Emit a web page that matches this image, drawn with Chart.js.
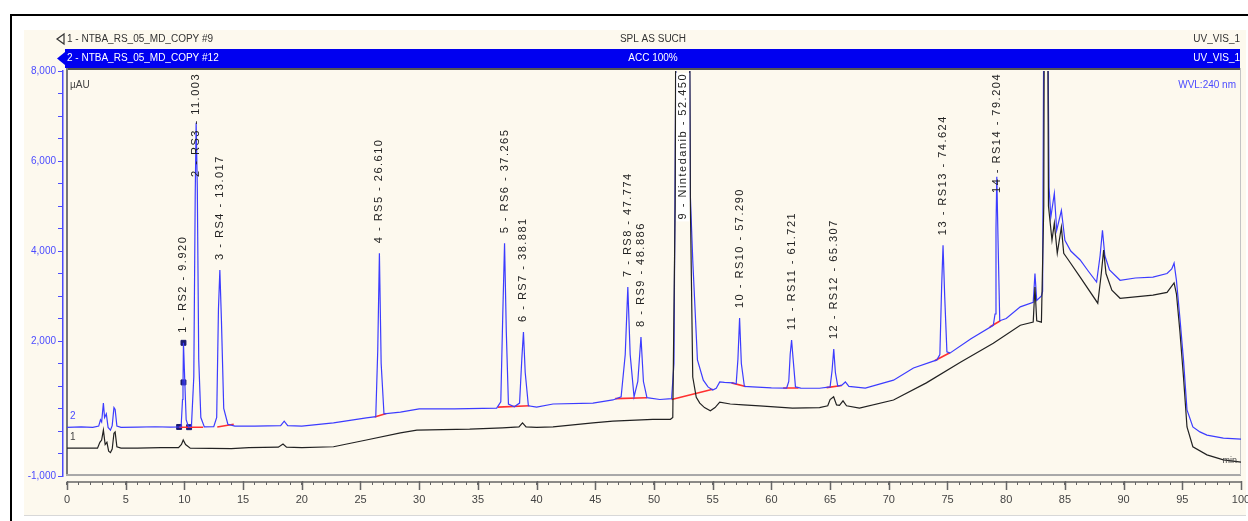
<!DOCTYPE html>
<html lang="en">
<head>
<meta charset="UTF-8">
<title>NTBA RS overlay</title>
<style>
  html, body { margin: 0; padding: 0; background: #fff; }
  canvas { display: block; }
</style>
</head>
<body>
<canvas id="chrom" width="1248" height="521"></canvas>
<script src="https://cdn.jsdelivr.net/npm/chart.js"></script>
<script>
// [min, µAU] read off the overlay
// trace 2 - ACC 100% (blue)
const accTrace = [
  [0,80],[1.2,90],[2.2,80],[2.7,110],[2.85,250],[2.95,200],[3.1,620],[3.2,300],[3.35,380],[3.5,80],[3.7,20],
  [3.85,120],[4.0,520],[4.1,480],[4.25,110],[4.6,80],[6,85],[7.5,95],[8.8,85],[9.6,90],[9.72,95],[9.84,700],
  [9.88,1000],[9.92,1960],[10.02,1200],[10.15,250],[10.35,90],[10.6,110],[10.8,1200],[10.92,5200],[11.0,6850],
  [11.1,5400],[11.22,1600],[11.4,300],[11.7,90],[12.5,95],[12.75,300],[12.9,2700],[13.02,3580],[13.15,2500],
  [13.35,500],[13.7,150],[14.3,110],[16,110],[18.2,120],[18.5,220],[18.8,120],[20,110],[22.7,180],[25.5,290],
  [26.3,320],[26.47,1800],[26.61,3950],[26.76,1500],[27.0,380],[28.4,420],[30,490],[33,490],[36.6,510],
  [36.95,650],[37.12,2600],[37.27,4170],[37.42,2200],[37.6,600],[38.1,540],[38.55,620],[38.74,1600],[38.88,2200],
  [39.03,1300],[39.3,560],[40,530],[41.4,600],[44.8,620],[46.5,690],[47.2,760],[47.55,1700],[47.77,3200],
  [47.97,1700],[48.3,760],[48.62,1100],[48.89,2090],[49.1,1100],[49.4,740],[50.5,700],[51.5,720],[51.7,1500],
  [51.95,12000],[52.45,40000],[52.95,12000],[53.1,5200],[53.3,3800],[53.7,1580],[54.2,1130],[54.6,980],
  [55.0,910],[55.3,950],[55.6,1090],[56.0,1080],[56.7,1070],[57.0,1050],[57.15,1600],[57.29,2510],[57.44,1500],
  [57.7,990],[58.4,980],[60,960],[61.3,955],[61.48,1100],[61.6,1700],[61.72,2020],[61.85,1600],[62.05,980],
  [62.5,955],[64.1,950],[65.0,980],[65.17,1350],[65.31,1820],[65.45,1300],[65.65,1000],[66.0,1020],[66.3,1090],
  [66.6,990],[68,955],[70.4,1130],[72.1,1400],[74.1,1580],[74.35,1700],[74.5,3200],[74.62,4130],[74.76,3000],
  [74.95,1760],[75.2,1730],[77,2050],[78.9,2350],[79.05,2600],[79.13,4500],[79.2,5650],[79.3,4300],[79.45,2450],
  [80,2500],[81.2,2760],[82.3,2860],[82.45,3500],[82.6,2900],[83.0,3000],[83.1,3100],[83.25,12000],[83.4,25000],
  [83.55,9000],[83.65,5420],[83.8,4750],[84.1,5280],[84.3,4460],[84.7,4900],[85.0,4240],[85.5,4000],[86.3,3800],
  [87.0,3550],[87.7,3310],[88.0,3900],[88.2,4460],[88.4,3900],[88.8,3580],[89.7,3350],[91,3400],[92.5,3420],
  [93.7,3500],[94.1,3600],[94.3,3730],[94.5,3350],[94.8,2500],[95.1,1580],[95.4,470],[95.9,90],[96.5,-20],
  [97.1,-90],[98.5,-160],[100,-180]
];
// trace 1 - SPL AS SUCH (black)
const splTrace = [
  [0,-380],[2.6,-380],[2.8,-250],[2.95,-200],[3.1,20],[3.25,-300],[3.4,-250],[3.55,-450],[3.7,-480],[3.85,-400],
  [4.0,-50],[4.1,-20],[4.25,-350],[4.6,-380],[6,-380],[8,-370],[9.5,-370],[9.75,-300],[9.9,-200],[10.1,-300],
  [10.5,-380],[14,-390],[15.5,-370],[18,-360],[18.4,-290],[18.7,-360],[20,-370],[22.7,-350],[25.5,-200],
  [28.4,-40],[29.8,20],[32,30],[34.3,40],[37.1,70],[38.5,90],[38.8,180],[39.1,90],[40,80],[41.4,90],[44.8,180],
  [46.5,220],[49.9,260],[51.4,260],[51.6,300],[51.8,5000],[52.0,20000],[52.6,30000],[52.95,15000],[53.1,5000],
  [53.3,1200],[53.6,750],[53.9,620],[54.3,520],[54.8,450],[55.2,520],[55.6,640],[56.5,600],[57.6,580],[59,560],
  [61.8,510],[64.1,520],[64.8,560],[65.0,700],[65.3,760],[65.55,580],[65.8,570],[66.1,670],[66.4,560],[67.5,510],
  [70.4,690],[73.2,1070],[76.1,1530],[78.9,1950],[81.2,2350],[82.3,2420],[82.45,3200],[82.6,2450],[83.0,2420],
  [83.2,5000],[83.35,20000],[83.5,12000],[83.6,5000],[83.9,4240],[84.1,4620],[84.35,3950],[84.7,4530],
  [84.9,3950],[85.3,3800],[86.3,3420],[87.8,2840],[88.1,3500],[88.3,4020],[88.5,3500],[89.0,3130],[89.7,2950],
  [92.5,3020],[93.7,3080],[94.3,3290],[94.5,3050],[94.8,2200],[95.1,1200],[95.4,90],[95.9,-350],[97.1,-530],
  [98.5,-640],[100,-690]
];
// integration baselines (start min, start µAU, end min, end µAU)
const baselineSegments = [
  [9.55,85,11.6,85],[12.8,90,14.2,150],[26.2,310,27.2,390],[36.7,530,39.4,560],[46.7,720,49.4,740],
  [51.5,700,55.0,930],[56.6,1070,57.8,990],[61.0,955,62.3,955],[64.7,965,66.0,1010],[73.9,1560,75.2,1740],
  [78.6,2310,79.5,2450]
];
const peakTimes = [9.920, 11.003, 13.017, 26.610, 37.265, 38.881, 47.774, 48.886, 52.450, 57.290, 61.721, 65.307, 74.624, 79.204];
const peakNames = ['1 - RS2 - 9.920', '2 - RS3 - 11.003', '3 - RS4 - 13.017', '4 - RS5 - 26.610', '5 - RS6 - 37.265',
  '6 - RS7 - 38.881', '7 - RS8 - 47.774', '8 - RS9 - 48.886', '9 - Nintedanib - 52.450', '10 - RS10 - 57.290',
  '11 - RS11 - 61.721', '12 - RS12 - 65.307', '13 - RS13 - 74.624', '14 - RS14 - 79.204'];
const peak1Marks = [[9.55,90],[9.92,1080],[9.92,1960],[10.4,85]];
const xLabelValues = [0,5,10,15,20,25,30,35,40,45,50,55,60,65,70,75,80,85,90,95,100];
const yLabelValues = [-1000,2000,4000,6000,8000];

const FONT = '"Liberation Sans", Arial, sans-serif';
const TRACE_BLUE = '#3c3cff';
const AXIS_BLUE = '#4b4bff';

const pts = a => a.map(p => ({ x: p[0], y: p[1] }));
const baselineData = [];
baselineSegments.forEach(s => {
  baselineData.push({ x: s[0], y: s[1] }, { x: s[2], y: s[3] }, { x: s[2], y: null });
});

const chromFrame = {
  id: 'chromFrame',
  beforeDraw(chart) {
    const { ctx, scales: { x, y } } = chart;
    ctx.save();
    ctx.fillStyle = '#fff';
    ctx.fillRect(0, 0, chart.width, chart.height);
    // outer black frame
    ctx.fillStyle = '#000';
    ctx.fillRect(10, 14, 2, chart.height - 14);
    ctx.fillRect(10, 14, chart.width - 10, 2);
    // cream panel
    ctx.fillStyle = '#fdf9ee';
    ctx.fillRect(24, 30, 1222, 486);
    ctx.fillStyle = '#d8d8d8';
    ctx.fillRect(24, 515, 1222, 1);

    // header rows
    ctx.font = '10px ' + FONT;
    ctx.textBaseline = 'middle';
    ctx.fillStyle = '#333';
    ctx.strokeStyle = '#333';
    ctx.lineWidth = 1.2;
    ctx.beginPath();
    ctx.moveTo(64, 34); ctx.lineTo(57, 39); ctx.lineTo(64, 44);
    ctx.closePath();
    ctx.stroke();
    ctx.textAlign = 'left';
    ctx.fillText('1 - NTBA_RS_05_MD_COPY #9', 67, 39);
    ctx.textAlign = 'center';
    ctx.fillText('SPL AS SUCH', 653, 39);
    ctx.textAlign = 'right';
    ctx.fillText('UV_VIS_1', 1240, 39);

    ctx.fillStyle = '#0000f0';
    ctx.fillRect(65, 49, 1175, 19);
    ctx.beginPath();
    ctx.moveTo(65, 52); ctx.lineTo(57, 58.5); ctx.lineTo(65, 65);
    ctx.closePath();
    ctx.fill();
    ctx.fillStyle = '#fff';
    ctx.textAlign = 'left';
    ctx.fillText('2 - NTBA_RS_05_MD_COPY #12', 67, 58.5);
    ctx.textAlign = 'center';
    ctx.fillText('ACC 100%', 653, 58.5);
    ctx.textAlign = 'right';
    ctx.fillText('UV_VIS_1', 1240, 58.5);

    // plot frame
    const l = x.getPixelForValue(0), r = x.getPixelForValue(100);
    const b = y.getPixelForValue(-1000) - 1;
    ctx.fillStyle = '#555';
    ctx.fillRect(l - 1, 68, r - l + 1, 2);
    ctx.fillStyle = '#777';
    ctx.fillRect(l - 1, 68, 2, b - 68 + 1);
    ctx.fillStyle = '#a8a8a8';
    ctx.fillRect(l - 1, b - 1, r - l + 1, 2);
    ctx.fillStyle = '#c4c4c4';
    ctx.fillRect(r - 1, 68, 1, b - 68);
    ctx.restore();
  },
  afterDatasetsDraw(chart) {
    const { ctx, chartArea, scales: { x, y } } = chart;
    ctx.save();
    // peak labels, bottom-to-top
    ctx.font = '11px ' + FONT;
    ctx.letterSpacing = '1.5px';
    ctx.textBaseline = 'middle';
    ctx.textAlign = 'left';
    peakTimes.forEach((rt, i) => {
      let top = -Infinity;
      accTrace.forEach(p => { if (Math.abs(p[0] - rt) < 0.2) top = Math.max(top, p[1]); });
      const clipped = top >= y.max;
      const px = x.getPixelForValue(rt);
      const py = y.getPixelForValue(Math.min(top, y.max));
      const len = ctx.measureText(peakNames[i]).width;
      let start = py - 10;
      if (start - len < chartArea.top + 2) start = chartArea.top + 2 + len;
      ctx.save();
      ctx.translate(px, start);
      ctx.rotate(-Math.PI / 2);
      if (clipped) {
        ctx.fillStyle = '#fff';
        ctx.fillRect(-2, -6.5, len + 2, 13);
      }
      ctx.fillStyle = '#222';
      ctx.fillText(peakNames[i], 0, 0);
      ctx.restore();
    });
    ctx.restore();
  },
  afterDraw(chart) {
    const { ctx, scales: { x, y } } = chart;
    ctx.save();
    // y axis line (blue)
    ctx.fillStyle = AXIS_BLUE;
    ctx.fillRect(62, y.getPixelForValue(8000) - 1, 1.5, y.getPixelForValue(-1000) - y.getPixelForValue(8000) + 2);
    // x axis line and major ticks
    const ay = chart.chartArea.bottom;
    ctx.strokeStyle = '#666';
    ctx.lineWidth = 1.5;
    ctx.beginPath();
    ctx.moveTo(x.getPixelForValue(0), ay);
    ctx.lineTo(x.getPixelForValue(100), ay);
    xLabelValues.forEach(v => {
      const px = Math.round(x.getPixelForValue(v)) + 0.5;
      ctx.moveTo(px, ay - 1);
      ctx.lineTo(px, ay + 8);
    });
    ctx.stroke();

    ctx.font = '10px ' + FONT;
    ctx.textBaseline = 'middle';
    ctx.textAlign = 'left';
    ctx.fillStyle = '#444';
    ctx.fillText('µAU', 70, 85);
    ctx.fillStyle = AXIS_BLUE;
    ctx.fillText('2', 70, 416);
    ctx.fillStyle = '#444';
    ctx.fillText('1', 70, 437);
    ctx.textAlign = 'right';
    ctx.fillStyle = AXIS_BLUE;
    ctx.fillText('WVL:240 nm', 1236, 85);
    ctx.fillStyle = '#444';
    ctx.font = '9px ' + FONT;
    ctx.fillText('min', 1237, 461);
    ctx.restore();
  }
};

Chart.defaults.font.family = FONT;

new Chart(document.getElementById('chrom'), {
  type: 'line',
  data: {
    datasets: [
      { label: 'SPL AS SUCH', data: pts(splTrace), borderColor: '#222', borderWidth: 1.2, pointRadius: 0 },
      { label: 'ACC 100%', data: pts(accTrace), borderColor: TRACE_BLUE, borderWidth: 1.2, pointRadius: 0 },
      { label: 'baseline', data: baselineData, borderColor: '#ff3030', borderWidth: 1.6, pointRadius: 0, spanGaps: false },
      { label: 'marks', data: pts(peak1Marks), showLine: false, pointStyle: 'rect', pointRadius: 3.5,
        pointBackgroundColor: '#1b1b70', pointBorderColor: '#1b1b70' }
    ]
  },
  options: {
    responsive: false,
    animation: false,
    devicePixelRatio: 1,
    layout: { padding: { left: 0, right: 7, top: 71, bottom: 0 } },
    plugins: { legend: { display: false }, tooltip: { enabled: false } },
    elements: { line: { tension: 0 } },
    scales: {
      x: {
        type: 'linear',
        min: -0.3407,
        max: 100,
        afterBuildTicks: s => { s.ticks = Array.from({ length: 101 }, (_, i) => ({ value: i })); },
        afterFit: s => { s.height = 39; s.paddingLeft = 0; s.paddingRight = 0; },
        border: { display: false },
        grid: { drawOnChartArea: false, tickLength: 3, color: '#666', lineWidth: 1 },
        ticks: {
          autoSkip: false, maxRotation: 0, padding: 8, color: '#444',
          font: { size: 11 },
          callback: v => xLabelValues.includes(v) ? String(v) : ''
        }
      },
      y: {
        type: 'linear',
        min: -1133,
        max: 8000,
        afterBuildTicks: s => {
          const t = [];
          for (let v = -1000; v <= 8000; v += 500) t.push({ value: v });
          s.ticks = t;
        },
        afterFit: s => { s.width = 63; s.paddingTop = 0; s.paddingBottom = 0; },
        border: { display: false },
        grid: { drawOnChartArea: false, tickLength: 5, color: AXIS_BLUE, lineWidth: 1 },
        ticks: {
          autoSkip: false, padding: 2, color: AXIS_BLUE,
          font: { size: 10 },
          callback: v => yLabelValues.includes(v) ? v.toLocaleString('en-US') : ''
        }
      }
    }
  },
  plugins: [chromFrame]
});
</script>
</body>
</html>
